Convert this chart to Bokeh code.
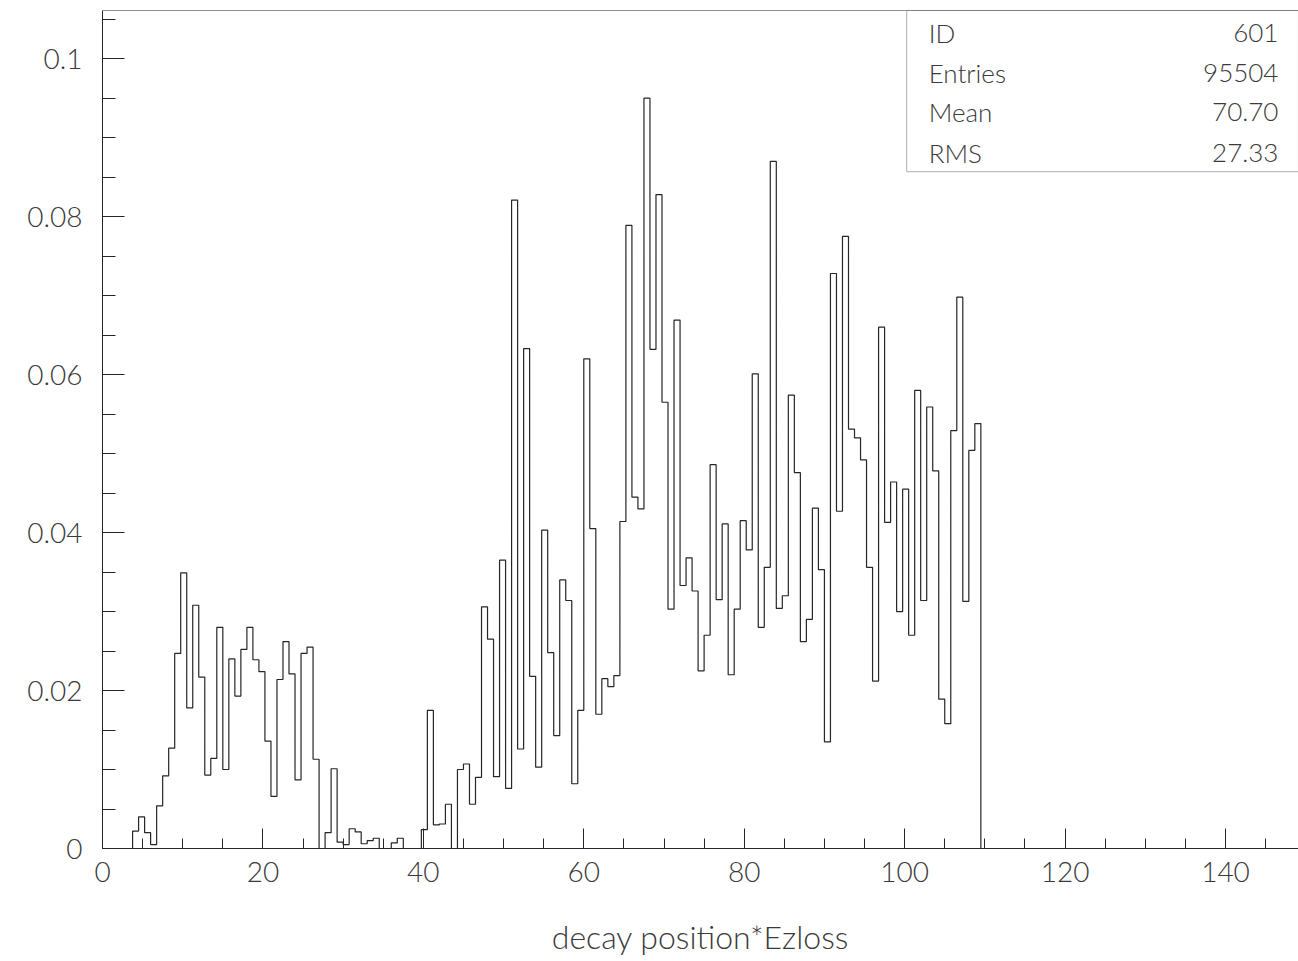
from bokeh.plotting import figure
from bokeh.models import (FixedTicker, Range1d, BoxAnnotation, Label, Span,
                          CustomJSTickFormatter, ColumnDataSource)
from bokeh.embed import file_html
from bokeh.resources import INLINE

# ---- histogram definition (PAW ID 601) ----
x_min = 0.0
x_max = 150.0
n_bins = 200

# bin contents for bins 0..145 (the rest are empty)
contents = [
    0, 0, 0, 0, 0,
    0.0022, 0.0040, 0.0020, 0.0005, 0.0054, 0.0092, 0.0127, 0.0247, 0.0349, 0.0178,
    0.0308, 0.0217, 0.0093, 0.0114, 0.0280, 0.0100, 0.0240, 0.0193, 0.0252, 0.0280,
    0.0239, 0.0224, 0.0136, 0.0066, 0.0214, 0.0262, 0.0221, 0.0087, 0.0247, 0.0255,
    0.0113, 0.0, 0.0020, 0.0101, 0.0008, 0.0005, 0.0025, 0.0021, 0.0006, 0.0010,
    0.0013, 0.0, 0.0, 0.0007, 0.0013, 0.0, 0.0, 0.0, 0.0024, 0.0175,
    0.0030, 0.0031, 0.0056, 0.0, 0.0100, 0.0107, 0.0056, 0.0090, 0.0306, 0.0265,
    0.0091, 0.0365, 0.0076, 0.0821, 0.0126, 0.0633, 0.0218, 0.0103, 0.0403, 0.0248,
    0.0143, 0.0340, 0.0314, 0.0082, 0.0175, 0.0620, 0.0405, 0.0170, 0.0215, 0.0205,
    0.0219, 0.0414, 0.0789, 0.0445, 0.0430, 0.0950, 0.0632, 0.0828, 0.0565, 0.0303,
    0.0669, 0.0333, 0.0368, 0.0326, 0.0225, 0.0270, 0.0486, 0.0315, 0.0411, 0.0220,
    0.0303, 0.0415, 0.0378, 0.0601, 0.0280, 0.0356, 0.0870, 0.0304, 0.0320, 0.0574,
    0.0476, 0.0262, 0.0290, 0.0431, 0.0353, 0.0135, 0.0728, 0.0427, 0.0775, 0.0531,
    0.0520, 0.0492, 0.0356, 0.0212, 0.0660, 0.0413, 0.0464, 0.0300, 0.0455, 0.0270,
    0.0580, 0.0314, 0.0559, 0.0478, 0.0189, 0.0158, 0.0529, 0.0698, 0.0313, 0.0504,
    0.0538,
]

x_ticks = [0, 20, 40, 60, 80, 100, 120, 140]
x_minor = [5 * i for i in range(0, 31)]
y_ticks = [0, 0.02, 0.04, 0.06, 0.08, 0.1]
y_minor = [0.005 * i for i in range(0, 22)]

stat_names = ["ID", "Entries", "Mean", "RMS"]
stat_values = ["601", "95504", "70.70", "27.33"]

x_title = "decay position*Ezloss"

# ---- build step outline ----
width_bin = (x_max - x_min) / n_bins
vals = contents + [0.0] * (n_bins - len(contents))
edges = [x_min + i * width_bin for i in range(n_bins + 1)]
step_x = edges
step_y = vals + [0.0]

FONT = "Lato Light"
INK = "#262626"
TXT = "#3a3a3a"

y_top = 0.1061
p = figure(width=1298, height=958,
           x_range=Range1d(0, 149.1), y_range=Range1d(0, y_top),
           output_backend="svg", toolbar_location=None,
           min_border_left=102, min_border_right=0,
           min_border_top=10, min_border_bottom=109)
p.grid.visible = False
p.outline_line_color = None
p.background_fill_color = "white"
p.border_fill_color = "white"

src = ColumnDataSource(dict(x=step_x, y=step_y))
p.step("x", "y", source=src, mode="after", line_color=INK, line_width=1.2)

# x axis
xa = p.xaxis[0]
xa.ticker = FixedTicker(ticks=x_ticks, minor_ticks=x_minor)
xa.major_tick_in = 20
xa.major_tick_out = 0
xa.minor_tick_in = 10
xa.minor_tick_out = 0
xa.axis_line_color = INK
xa.major_tick_line_color = INK
xa.minor_tick_line_color = INK
xa.major_label_text_font = FONT
xa.major_label_text_font_size = "28px"
xa.major_label_text_color = TXT
xa.major_label_standoff = 13
xa.axis_label = x_title
xa.axis_label_text_font = FONT
xa.axis_label_text_font_style = "normal"
xa.axis_label_text_font_size = "32px"
xa.axis_label_text_color = TXT
xa.axis_label_standoff = 32

# y axis
ya = p.yaxis[0]
ya.ticker = FixedTicker(ticks=y_ticks, minor_ticks=y_minor)
ya.formatter = CustomJSTickFormatter(code="""
    if (Math.abs(tick) < 1e-12) return "0";
    return String(parseFloat(tick.toFixed(3)));
""")
ya.major_tick_in = 22
ya.major_tick_out = 0
ya.minor_tick_in = 13
ya.minor_tick_out = 0
ya.axis_line_color = INK
ya.major_tick_line_color = INK
ya.minor_tick_line_color = INK
ya.major_label_text_font = FONT
ya.major_label_text_font_size = "28px"
ya.major_label_text_color = TXT
ya.major_label_standoff = 20

# top frame line
p.add_layout(Span(location=y_top, dimension="width", line_color=INK, line_width=1.2))

# statistics box
box_left = 100.25
box_bottom = 0.0857
p.add_layout(BoxAnnotation(left=box_left, bottom=box_bottom, fill_alpha=0,
                           line_color=INK, line_width=1.2))
row_y = [0.1033, 0.0982, 0.0932, 0.0881]
for name, val, yy in zip(stat_names, stat_values, row_y):
    p.add_layout(Label(x=103.0, y=yy, text=name, text_font=FONT,
                       text_font_size="26px", text_color=TXT,
                       text_baseline="middle", text_align="left"))
    p.add_layout(Label(x=146.6, y=yy, text=val, text_font=FONT,
                       text_font_size="26px", text_color=TXT,
                       text_baseline="middle", text_align="right"))

open("out.html", "w").write(file_html(p, INLINE))
